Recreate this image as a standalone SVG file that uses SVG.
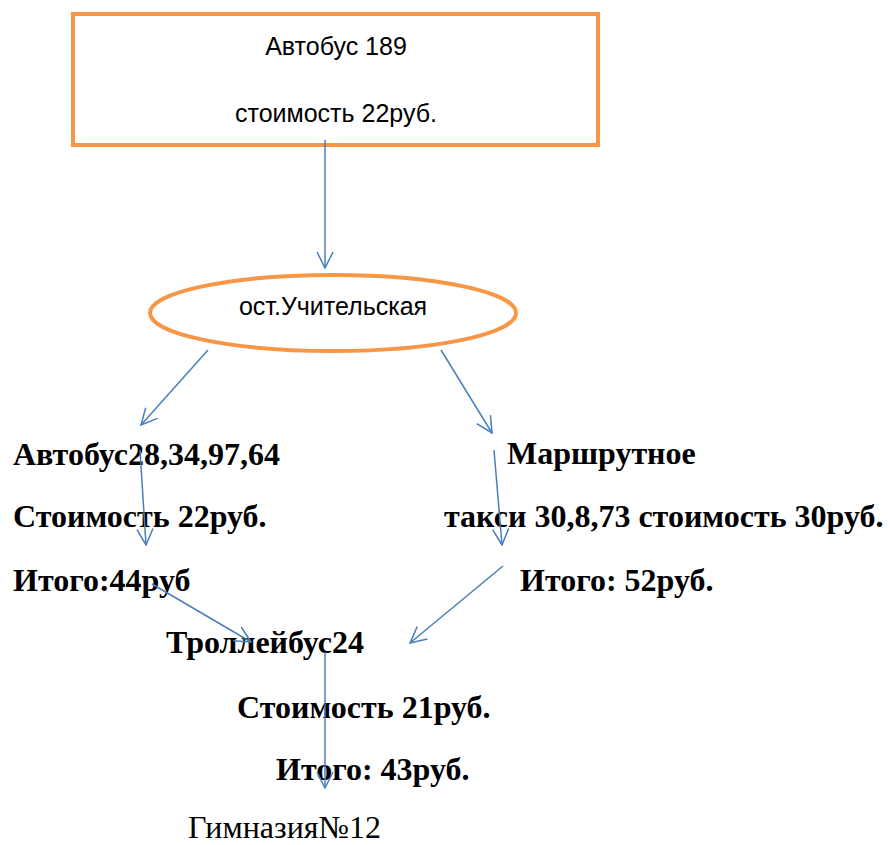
<svg xmlns="http://www.w3.org/2000/svg" width="890" height="845" viewBox="0 0 890 845">
<style>
.shape{fill:none;stroke:#F79646;stroke-width:4}
.lbl{font-family:"Liberation Sans",Arial,sans-serif;font-size:25px;fill:#000;text-anchor:middle}
.b{font-family:"Liberation Serif","Times New Roman",serif;font-size:32px;font-weight:bold;fill:#000}
.n{font-family:"Liberation Serif","Times New Roman",serif;font-size:32px;fill:#000}
.con{stroke:#4A7EBB;stroke-width:1.5;fill:none}
</style>
<defs>
<marker id="ah" viewBox="0 0 18 18" refX="17" refY="9" markerWidth="18" markerHeight="18" markerUnits="userSpaceOnUse" orient="auto">
<path d="M1,1 L17,9 L1,17" fill="none" stroke="#4A7EBB" stroke-width="1.5"/>
</marker>
</defs>
<rect width="890" height="845" fill="#fff"/>
<g id="bus189">
<rect class="shape" x="73" y="14" width="525" height="131"/>
<text class="lbl" x="336" y="55">Автобус 189</text>
<text class="lbl" x="336" y="122">стоимость 22руб.</text>
</g>
<g id="stop">
<ellipse class="shape" cx="333" cy="313" rx="183" ry="38"/>
<text class="lbl" x="333" y="315">ост.Учительская</text>
</g>
<g id="busLeft">
<text class="b" x="13" y="465">Автобус28,34,97,64</text>
<text class="b" x="13" y="527">Стоимость 22руб.</text>
<text class="b" x="13" y="591">Итого:44руб</text>
</g>
<g id="taxi">
<text class="b" x="507" y="464">Маршрутное</text>
<text class="b" x="444" y="527">такси 30,8,73 стоимость 30руб.</text>
<text class="b" x="520" y="591">Итого: 52руб.</text>
</g>
<g id="trolley">
<text class="b" x="166" y="653">Троллейбус24</text>
<text class="b" x="237" y="718">Стоимость 21руб.</text>
<text class="b" x="276" y="780">Итого: 43руб.</text>
</g>
<g id="gymnasium">
<text class="n" x="188" y="838">Гимназия№12</text>
</g>
<g id="connectors">
<line class="con" x1="325" y1="140" x2="325" y2="268" marker-end="url(#ah)"/>
<line class="con" x1="208" y1="350" x2="141" y2="425" marker-end="url(#ah)"/>
<line class="con" x1="441" y1="350" x2="492" y2="433" marker-end="url(#ah)"/>
<line class="con" x1="140" y1="450" x2="146" y2="545" marker-end="url(#ah)"/>
<line class="con" x1="494" y1="450" x2="502" y2="545" marker-end="url(#ah)"/>
<line class="con" x1="152" y1="584" x2="251" y2="642" marker-end="url(#ah)"/>
<line class="con" x1="503" y1="566" x2="410" y2="643" marker-end="url(#ah)"/>
<line class="con" x1="325" y1="652" x2="325" y2="788" marker-end="url(#ah)"/>
</g>
</svg>
